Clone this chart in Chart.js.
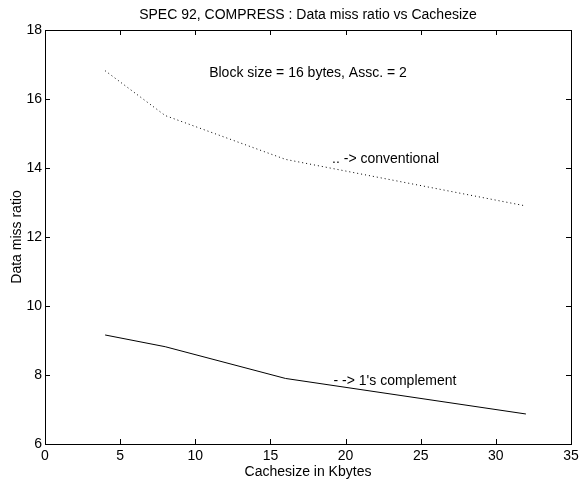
<!DOCTYPE html>
<html>
<head>
<meta charset="utf-8">
<script src="https://cdn.jsdelivr.net/npm/chart.js@4.4.1/dist/chart.umd.min.js"></script>
<style>
  html, body { margin: 0; padding: 0; background: #fff; }
  #wrap { width: 579px; height: 482px; }
</style>
</head>
<body>
<div id="wrap"><canvas id="chart"></canvas></div>
<script>
// cache sizes (Kbytes)
var cacheSizes = [4, 8, 16, 32];
// data miss ratio per scheme
var conventional = [16.82, 15.52, 14.25, 12.9];
var onesComplement = [9.16, 8.82, 7.9, 6.87];

var xTicks = [0, 5, 10, 15, 20, 25, 30, 35];
var yTicks = [6, 8, 10, 12, 14, 16, 18];

var titleText = 'SPEC 92, COMPRESS : Data miss ratio vs Cachesize';
// text notes placed in data coordinates
var notes = [
    { text: 'Block size = 16 bytes, Assc. = 2', x: 17.5, y: 16.75, align: 'center' },
    { text: '.. -> conventional', x: 19.1, y: 14.25, align: 'left' },
    { text: '- -> 1\'s complement', x: 19.2, y: 7.83, align: 'left' }
];

var FONT = 'Liberation Sans, Arial, Helvetica, sans-serif';

function toPoints(xs, ys) {
    return xs.map(function (x, i) { return { x: x, y: ys[i] }; });
}

// box, inner ticks, title and notes (MATLAB look)
var framePlugin = {
    id: 'frame',
    afterDraw: function (chart) {
        var ctx = chart.ctx;
        var a = chart.chartArea;
        var sx = chart.scales.x, sy = chart.scales.y;
        ctx.save();
        ctx.strokeStyle = '#000';
        ctx.lineWidth = 1;
        ctx.beginPath();
        xTicks.forEach(function (v) {
            var px = Math.round(sx.getPixelForValue(v)) + 0.5;
            ctx.moveTo(px, a.bottom); ctx.lineTo(px, a.bottom - 5);
            ctx.moveTo(px, a.top); ctx.lineTo(px, a.top + 5);
        });
        yTicks.forEach(function (v) {
            var py = Math.round(sy.getPixelForValue(v)) + 0.5;
            ctx.moveTo(a.left, py); ctx.lineTo(a.left + 5, py);
            ctx.moveTo(a.right, py); ctx.lineTo(a.right - 5, py);
        });
        ctx.stroke();
        ctx.strokeRect(Math.round(a.left) + 0.5, Math.round(a.top) + 0.5,
            Math.round(a.right - a.left), Math.round(a.bottom - a.top));

        ctx.fillStyle = '#000';
        ctx.font = '14px ' + FONT;
        ctx.textAlign = 'center';
        ctx.textBaseline = 'middle';
        ctx.fillText(titleText, (a.left + a.right) / 2, 15.5);

        notes.forEach(function (n) {
            ctx.textAlign = n.align;
            ctx.fillText(n.text, sx.getPixelForValue(n.x), sy.getPixelForValue(n.y));
        });
        ctx.restore();
    }
};

new Chart(document.getElementById('chart'), {
    type: 'line',
    data: {
        datasets: [{
            label: 'conventional',
            data: toPoints(cacheSizes, conventional),
            borderColor: '#000',
            borderWidth: 1,
            borderDash: [1, 3],
            pointRadius: 0,
            tension: 0
        }, {
            label: "1's complement",
            data: toPoints(cacheSizes, onesComplement),
            borderColor: '#000',
            borderWidth: 1,
            pointRadius: 0,
            tension: 0
        }]
    },
    options: {
        responsive: true,
        maintainAspectRatio: false,
        animation: false,
        layout: { padding: { top: 30, right: 0, left: 0, bottom: 0 } },
        plugins: {
            legend: { display: false },
            tooltip: { enabled: false }
        },
        scales: {
            x: {
                type: 'linear',
                min: 0,
                max: 35,
                afterBuildTicks: function (s) { s.ticks = xTicks.map(function (v) { return { value: v }; }); },
                afterFit: function (s) {
                    s.height = 38;
                    s.paddingLeft = 0;
                    s.paddingRight = 8; // keep plot box right edge at 571
                },
                grid: { display: false, drawTicks: false },
                border: { display: false },
                ticks: { color: '#000', font: { family: FONT, size: 14, lineHeight: 1 }, padding: 5, maxRotation: 0 },
                title: { display: true, text: 'Cachesize in Kbytes', color: '#000', font: { family: FONT, size: 14, lineHeight: 1 }, padding: { top: 2, bottom: 3 } }
            },
            y: {
                type: 'linear',
                min: 6,
                max: 18,
                afterBuildTicks: function (s) { s.ticks = yTicks.map(function (v) { return { value: v }; }); },
                afterFit: function (s) { s.width = 45; },
                grid: { display: false, drawTicks: false },
                border: { display: false },
                ticks: { color: '#000', font: { family: FONT, size: 14 }, padding: 3 },
                title: { display: true, text: 'Data miss ratio', color: '#000', font: { family: FONT, size: 14, lineHeight: 1 }, padding: { top: 10, bottom: 0 } }
            }
        }
    },
    plugins: [framePlugin]
});
</script>
</body>
</html>
